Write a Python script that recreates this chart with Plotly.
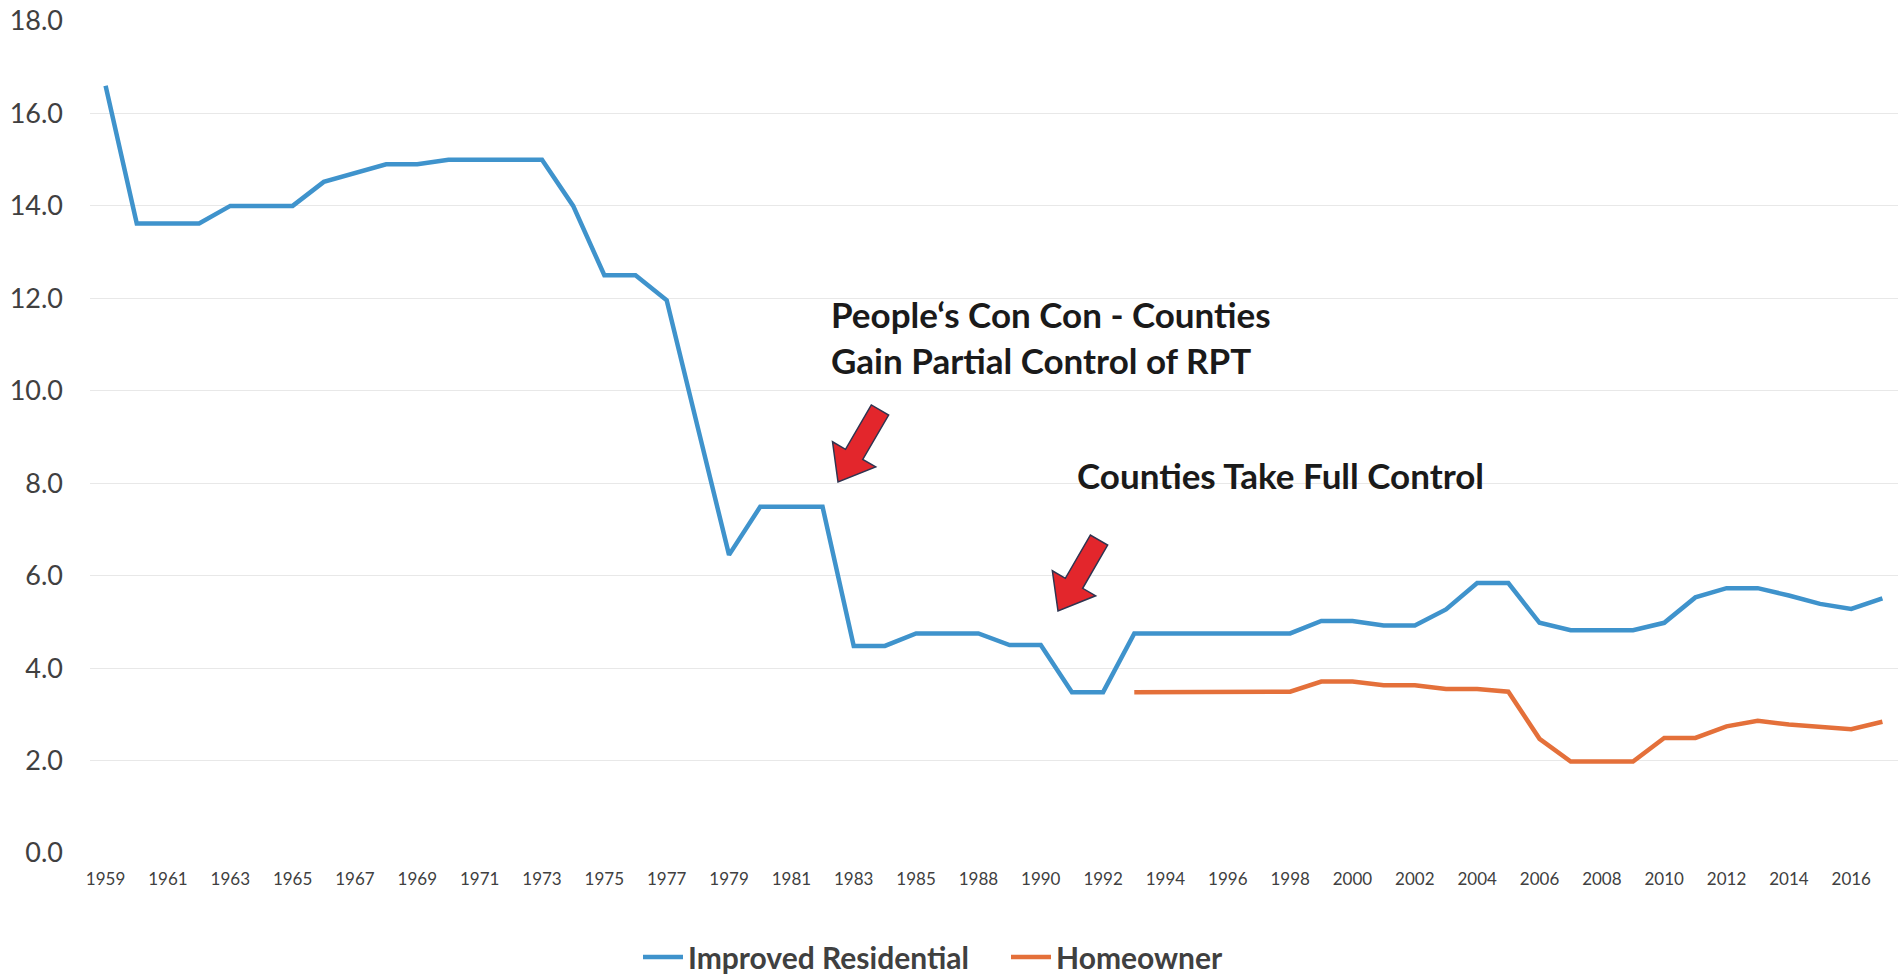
import plotly.graph_objects as go

years = [str(y) for y in range(1959, 1986)] + ["1987"] + [str(y) for y in range(1988, 2018)]

improved_residential = [
    16.6, 13.62, 13.62, 13.62, 14.0, 14.0, 14.0, 14.52, 14.72, 14.9,
    14.9, 15.0, 15.0, 15.0, 15.0, 14.0, 12.5, 12.5, 11.96, 9.2,
    6.45, 7.49, 7.49, 7.49, 4.48, 4.48, 4.75, 4.75, 4.75, 4.5,
    4.5, 3.48, 3.48, 4.75, 4.75, 4.75, 4.75, 4.75, 4.75, 5.02,
    5.02, 4.92, 4.92, 5.27, 5.84, 5.84, 4.98, 4.82, 4.82, 4.82,
    4.98, 5.53, 5.73, 5.73, 5.57, 5.39, 5.28, 5.51,
]

homeowner_years = [str(y) for y in range(1993, 2018)]
homeowner = [
    3.48, 3.48, 3.48, 3.48, 3.48, 3.49, 3.71, 3.71, 3.63, 3.63,
    3.55, 3.55, 3.49, 2.47, 1.98, 1.98, 1.98, 2.49, 2.49, 2.74,
    2.86, 2.78, 2.74, 2.68, 2.84,
]

y_ticks = [0, 2, 4, 6, 8, 10, 12, 14, 16, 18]
x_tick_labels = years[::2]

BLUE = "#3f93cc"
ORANGE = "#e4703a"
FONT = "Lato, 'Open Sans', sans-serif"

fig = go.Figure()
fig.add_trace(go.Scatter(x=years, y=improved_residential, mode="lines",
                         name="Improved Residential", legend="legend",
                         line=dict(color=BLUE, width=4.5)))
fig.add_trace(go.Scatter(x=homeowner_years, y=homeowner, mode="lines",
                         name="Homeowner", legend="legend2",
                         line=dict(color=ORANGE, width=4.5)))

W, H = 1898, 976
L, R, T, B = 90, 0, 21, 123
pw, ph = W - L - R, H - T - B


def to_paper(px, py):
    return (px - L) / pw, (H - B - py) / ph


def arrow_path(tail, tip, w=10, hw=25, hl=32):
    tx, ty = tail
    hx, hy = tip
    dx, dy = hx - tx, hy - ty
    n = (dx * dx + dy * dy) ** 0.5
    ux, uy = dx / n, dy / n
    nx, ny = -uy, ux
    bx, by = hx - ux * hl, hy - uy * hl
    pts = [
        (tx + nx * w, ty + ny * w),
        (bx + nx * w, by + ny * w),
        (bx + nx * hw, by + ny * hw),
        (hx, hy),
        (bx - nx * hw, by - ny * hw),
        (bx - nx * w, by - ny * w),
        (tx - nx * w, ty - ny * w),
    ]
    pp = [to_paper(x, y) for x, y in pts]
    return "M " + " L ".join(f"{x:.5f},{y:.5f}" for x, y in pp) + " Z"


for tail, tip in [((880, 410), (838, 482)), ((1099, 540), (1058, 611))]:
    fig.add_shape(type="path", xref="paper", yref="paper",
                  path=arrow_path(tail, tip),
                  fillcolor="#e3262c", line=dict(color="#2f3450", width=1.5))

ann_font = dict(family=FONT, size=35, color="#1a1a1a", weight="bold")
for text, px, py in [("People\u2018s Con Con - Counties", 829, 314),
                     ("Gain Partial Control of RPT", 829, 360),
                     ("Counties Take Full Control", 1075, 475)]:
    ax, ay = to_paper(px, py)
    fig.add_annotation(x=ax, y=ay, xref="paper", yref="paper", text=text,
                       showarrow=False, xanchor="left", yanchor="middle",
                       font=ann_font)

legend_common = dict(orientation="h", xanchor="left",
                     y=(H - B - 957) / ph, yanchor="middle",
                     font=dict(family=FONT, size=30, color="#404040", weight="bold"),
                     itemwidth=40, bgcolor="rgba(0,0,0,0)")

fig.update_layout(
    width=W, height=H,
    margin=dict(l=L, r=R, t=T, b=B, autoexpand=False),
    paper_bgcolor="white", plot_bgcolor="white",
    showlegend=True,
    legend=dict(x=(638 - L) / pw, **legend_common),
    legend2=dict(x=(1006 - L) / pw, **legend_common),
    hovermode=False,
    font=dict(family=FONT),
)
fig.update_xaxes(type="category", categoryorder="array", categoryarray=years,
                 tickmode="array", tickvals=x_tick_labels, ticktext=x_tick_labels,
                 tickangle=0, showgrid=False, showline=False, zeroline=False,
                 ticks="", ticklabelstandoff=14,
                 tickfont=dict(family=FONT, size=17, color="#404040"),
                 range=[-0.5, len(years) - 0.5])
fig.update_yaxes(range=[0, 18], tickmode="array", tickvals=y_ticks,
                 ticktext=[f"{v:.1f}" for v in y_ticks],
                 showgrid=True, gridcolor="#e8e8e8", gridwidth=1,
                 zeroline=False, showline=False, ticks="",
                 ticklabelstandoff=26,
                 tickfont=dict(family=FONT, size=27, color="#404040"))

fig.write_html("out.html")
